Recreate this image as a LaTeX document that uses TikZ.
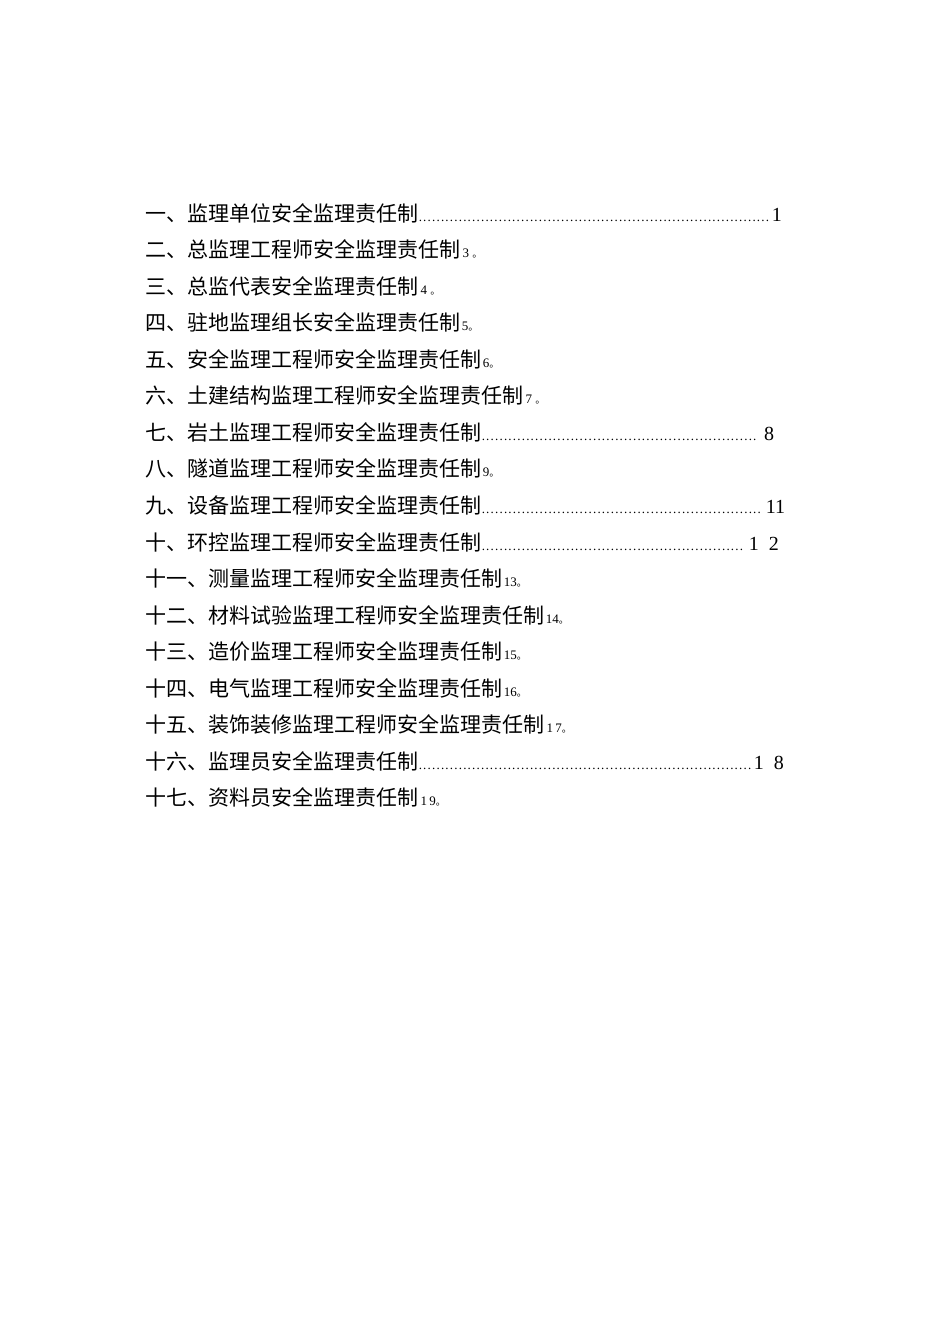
\documentclass[tikz,border=0pt]{standalone}
\usepackage{fontspec}
\setmainfont{Liberation Serif}
\newfontfamily\cjk{Noto Sans CJK SC}
\newcommand\tl[1]{{\cjk\fontsize{21}{21}\selectfont #1}}
\newcommand\sm[1]{{\fontsize{13}{13}\selectfont #1}{\cjk\fontsize{10}{10}\selectfont 。}}
\newcommand\lead[2]{\hbox to #1pt{\fontsize{13}{13}\selectfont\leaders\hbox to 4.45pt{\hss.\hss}\hfill}\,{\fontsize{20}{20}\selectfont #2}}
\begin{document}
\begin{tikzpicture}[x=1pt,y=1pt,entry/.style={anchor=base west,inner sep=0pt}]
\useasboundingbox (0,0) rectangle (950,-1344);
\def\b{-221}\def\s{36.56}
\node[entry] (l1) at (145,\b) {\tl{一、监理单位安全监理责任制}\lead{352}{1}};
\node[entry] (l2) at (145,\b-\s) {\tl{二、总监理工程师安全监理责任制}\ \sm{3\ }};
\node[entry] (l3) at (145,\b-2*\s) {\tl{三、总监代表安全监理责任制}\ \sm{4\ }};
\node[entry] (l4) at (145,\b-3*\s) {\tl{四、驻地监理组长安全监理责任制}\,\sm{5}};
\node[entry] (l5) at (145,\b-4*\s) {\tl{五、安全监理工程师安全监理责任制}\,\sm{6}};
\node[entry] (l6) at (145,\b-5*\s) {\tl{六、土建结构监理工程师安全监理责任制}\ \sm{7\ }};
\node[entry] (l7) at (145,\b-6*\s) {\tl{七、岩土监理工程师安全监理责任制}\lead{278}{\,8}};
\node[entry] (l8) at (145,\b-7*\s) {\tl{八、隧道监理工程师安全监理责任制}\,\sm{9}};
\node[entry] (l9) at (145,\b-8*\s) {\tl{九、设备监理工程师安全监理责任制}\lead{283}{11}};
\node[entry] (l10) at (145,\b-9*\s) {\tl{十、环控监理工程师安全监理责任制}\lead{266}{1\ \ 2}};
\node[entry] (l11) at (145,\b-10*\s) {\tl{十一、测量监理工程师安全监理责任制}\,\sm{13}};
\node[entry] (l12) at (145,\b-11*\s) {\tl{十二、材料试验监理工程师安全监理责任制}\,\sm{14}};
\node[entry] (l13) at (145,\b-12*\s) {\tl{十三、造价监理工程师安全监理责任制}\,\sm{15}};
\node[entry] (l14) at (145,\b-13*\s) {\tl{十四、电气监理工程师安全监理责任制}\,\sm{16}};
\node[entry] (l15) at (145,\b-14*\s) {\tl{十五、装饰装修监理工程师安全监理责任制}\ \sm{1\,7}};
\node[entry] (l16) at (145,\b-15*\s) {\tl{十六、监理员安全监理责任制}\lead{334}{1\ \ 8}};
\node[entry] (l17) at (145,\b-16*\s) {\tl{十七、资料员安全监理责任制}\ \sm{1\,9}};
\end{tikzpicture}
\end{document}
